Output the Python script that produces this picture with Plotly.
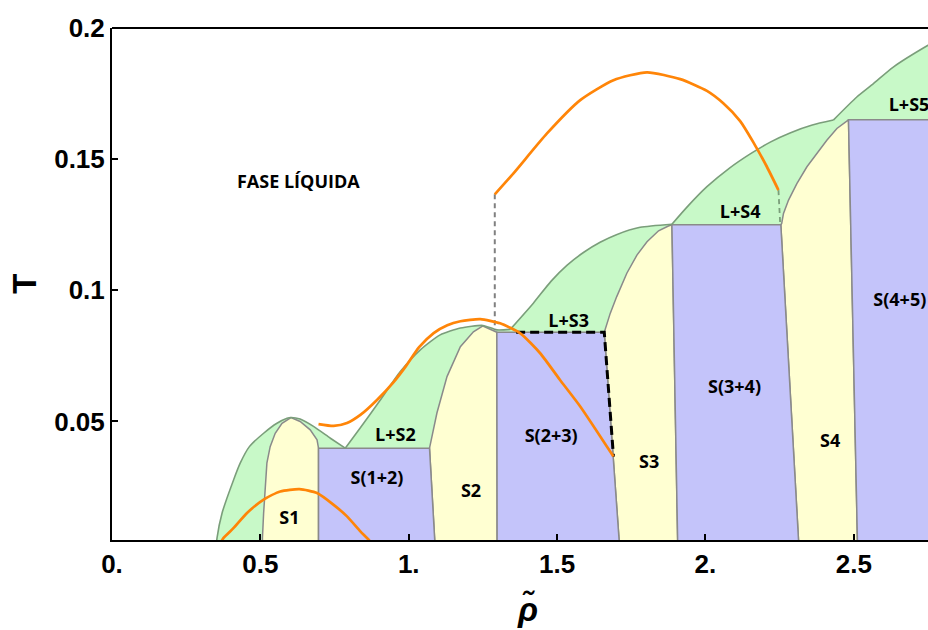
import plotly.graph_objects as go

# ---------------- axis ticks ----------------
x_tickvals = [0, 0.5, 1.0, 1.5, 2.0, 2.5]
x_ticktext = ["0.", "0.5", "1.", "1.5", "2.", "2.5"]
y_tickvals = [0.05, 0.1, 0.15, 0.2]
y_ticktext = ["0.05", "0.1", "0.15", "0.2"]

# ---------------- liquidus (outer envelope of L+S regions) ----------------
liq_x = [0.350, 0.354, 0.371, 0.410, 0.432, 0.463, 0.511, 0.556, 0.590, 0.603,
         0.634, 0.679, 0.736, 0.786,
         0.837, 0.897, 0.971, 1.039, 1.106, 1.174, 1.250,
         1.297, 1.342, 1.420, 1.480, 1.533, 1.590, 1.645, 1.700, 1.780, 1.887,
         1.940, 2.005, 2.080, 2.151, 2.220, 2.285, 2.360, 2.431,
         2.510, 2.566, 2.633, 2.750, 2.800]
liq_T = [0.0, 0.0056, 0.0151, 0.0278, 0.0341, 0.0404, 0.0455, 0.0493, 0.0512, 0.0515,
         0.0509, 0.0481, 0.0436, 0.0398,
         0.0476, 0.0570, 0.0689, 0.0773, 0.0830, 0.0856, 0.0866,
         0.0849, 0.0851, 0.0951, 0.1035, 0.1095, 0.1145, 0.1183, 0.1212, 0.1240, 0.1252,
         0.1320, 0.1395, 0.1465, 0.1520, 0.1566, 0.1600, 0.1630, 0.1649,
         0.1737, 0.1788, 0.1851, 0.1934, 0.1965]
# eutectic corners where the liquidus changes branch
eut_x = [0.786, 1.342, 1.887, 2.431]

# ---------------- single solid phases (yellow) ----------------
s1_x = [0.507, 0.507, 0.511, 0.517, 0.522, 0.533, 0.550, 0.573, 0.596, 0.603,
        0.634, 0.668, 0.691, 0.696, 0.696]
s1_T = [0.0, 0.0056, 0.0151, 0.0278, 0.0341, 0.0404, 0.0455, 0.0493, 0.0512, 0.0515,
        0.0500, 0.0468, 0.0430, 0.0398, 0.0]

s2_x = [1.090, 1.070, 1.095, 1.129, 1.174, 1.218, 1.250, 1.297, 1.298]
s2_T = [0.0, 0.0398, 0.0532, 0.0671, 0.0785, 0.0842, 0.0864, 0.0840, 0.0]

s3_x = [1.712, 1.659, 1.679, 1.701, 1.735, 1.769, 1.803, 1.842, 1.875, 1.887, 1.907]
s3_T = [0.0, 0.0840, 0.0912, 0.0976, 0.1065, 0.1134, 0.1185, 0.1227, 0.1245, 0.1250, 0.0]

s4_x = [2.316, 2.254, 2.257, 2.263, 2.280, 2.308, 2.342, 2.375, 2.409, 2.443, 2.471, 2.482, 2.513]
s4_T = [0.0, 0.1250, 0.1255, 0.1293, 0.1344, 0.1407, 0.1471, 0.1522, 0.1572, 0.1617, 0.1642, 0.1650, 0.0]

# ---------------- two-solid coexistence (purple) ----------------
s12_x = [0.696, 0.696, 1.070, 1.090]
s12_T = [0.0, 0.0398, 0.0398, 0.0]
s23_x = [1.298, 1.297, 1.659, 1.712]
s23_T = [0.0, 0.0840, 0.0840, 0.0]
s34_x = [1.907, 1.887, 2.254, 2.316]
s34_T = [0.0, 0.1250, 0.1250, 0.0]
s45_x = [2.513, 2.482, 2.800, 2.800]
s45_T = [0.0, 0.1650, 0.1650, 0.0]

# ---------------- orange curves ----------------
or1_x = [0.362, 0.376, 0.410, 0.455, 0.511, 0.567, 0.632, 0.691, 0.747, 0.792, 0.837, 0.865, 0.878]
or1_T = [0.0030, 0.0056, 0.0094, 0.0151, 0.0202, 0.0233, 0.0242, 0.0227, 0.0182, 0.0138, 0.0081, 0.0049, 0.0030]

or2_x = [0.696, 0.747, 0.792, 0.837, 0.893, 0.949, 0.990, 1.035, 1.084, 1.130, 1.174, 1.241,
         1.308, 1.376, 1.443, 1.510, 1.578, 1.690]
or2_T = [0.0490, 0.0483, 0.0494, 0.0525, 0.0582, 0.0650, 0.0710, 0.0783, 0.0837, 0.0867, 0.0882, 0.0890,
         0.0874, 0.0836, 0.0760, 0.0658, 0.0557, 0.0366]

or3_x = [1.290, 1.353, 1.466, 1.578, 1.690, 1.803, 1.915, 2.005, 2.061, 2.117, 2.162, 2.207, 2.246]
or3_T = [0.1366, 0.1446, 0.1598, 0.1725, 0.1801, 0.1831, 0.1805, 0.1760, 0.1712, 0.1645, 0.1563, 0.1471, 0.1382]

# ---------------- dashed connectors ----------------
dgray_x = [1.290, 1.290]
dgray_T = [0.1366, 0.0848]
dgreen_x = [2.246, 2.252]
dgreen_T = [0.1382, 0.1250]
dblack_x = [1.362, 1.659, 1.690]
dblack_T = [0.0840, 0.0840, 0.0366]

# ---------------- region labels ----------------
lab_text = ["FASE LÍQUIDA", "S1", "S(1+2)", "L+S2", "S2", "S(2+3)", "L+S3",
            "S3", "S(3+4)", "L+S4", "S4", "S(4+5)", "L+S5"]
lab_x = [0.628, 0.598, 0.893, 0.955, 1.210, 1.480, 1.539, 1.810, 2.098, 2.117, 2.420, 2.655, 2.686]
lab_T = [0.1408, 0.0128, 0.0278, 0.0443, 0.0229, 0.0438, 0.0877, 0.0341, 0.0627, 0.1293, 0.0421, 0.0959, 0.1699]

# ---------------- styles ----------------
GREEN = "#c8f9c8"
YELLOW = "#ffffd2"
PURPLE = "#c4c4fa"
LIQ_LINE = "rgb(122,158,122)"
GRAY_LINE = "rgb(138,138,138)"
ORANGE = "rgb(255,133,8)"

fig = go.Figure()

# green envelope
fig.add_trace(go.Scatter(x=liq_x + [liq_x[-1], liq_x[0]], y=liq_T + [0.0, 0.0],
                         mode="lines", fill="toself", fillcolor=GREEN,
                         line=dict(width=0), hoverinfo="skip", showlegend=False))

for xs, ts, col in [(s1_x, s1_T, YELLOW), (s2_x, s2_T, YELLOW), (s3_x, s3_T, YELLOW), (s4_x, s4_T, YELLOW),
                    (s12_x, s12_T, PURPLE), (s23_x, s23_T, PURPLE), (s34_x, s34_T, PURPLE), (s45_x, s45_T, PURPLE)]:
    fig.add_trace(go.Scatter(x=xs, y=ts, mode="lines", fill="toself", fillcolor=col,
                             line=dict(color=GRAY_LINE, width=1.5),
                             hoverinfo="skip", showlegend=False))

# liquidus outline, drawn branch by branch (smooth between eutectic corners)
cuts = [0] + [liq_x.index(e) for e in eut_x] + [len(liq_x) - 1]
for a, b in zip(cuts[:-1], cuts[1:]):
    fig.add_trace(go.Scatter(x=liq_x[a:b + 1], y=liq_T[a:b + 1], mode="lines",
                             line=dict(color=LIQ_LINE, width=1.6, shape="spline", smoothing=0.6),
                             hoverinfo="skip", showlegend=False))

# dashed connectors
fig.add_trace(go.Scatter(x=dgray_x, y=dgray_T, mode="lines",
                         line=dict(color="rgb(128,128,128)", width=2, dash="5px,4px"),
                         hoverinfo="skip", showlegend=False))
fig.add_trace(go.Scatter(x=dgreen_x, y=dgreen_T, mode="lines",
                         line=dict(color=LIQ_LINE, width=1.8, dash="5px,4px"),
                         hoverinfo="skip", showlegend=False))
fig.add_trace(go.Scatter(x=dblack_x, y=dblack_T, mode="lines",
                         line=dict(color="black", width=3, dash="9px,5px"),
                         hoverinfo="skip", showlegend=False))

# orange curves
for xs, ts in [(or1_x, or1_T), (or2_x, or2_T), (or3_x, or3_T)]:
    fig.add_trace(go.Scatter(x=xs, y=ts, mode="lines",
                             line=dict(color=ORANGE, width=2.7, shape="spline", smoothing=0.6),
                             hoverinfo="skip", showlegend=False))

# labels
fig.add_trace(go.Scatter(x=lab_x, y=lab_T, mode="text", text=lab_text,
                         textposition="middle center",
                         textfont=dict(family="Open Sans", size=18, color="black", weight="bold"),
                         hoverinfo="skip", showlegend=False))

tick_font = dict(family="Liberation Sans, Arial", size=26, color="black", weight="bold")

fig.update_layout(
    width=928, height=630, autosize=False,
    margin=dict(l=112, r=0, t=28, b=90),
    paper_bgcolor="white", plot_bgcolor="white",
    xaxis=dict(range=[0, 2.75], showgrid=False, zeroline=False,
               showline=True, linecolor="black", linewidth=2,
               ticks="inside", ticklen=6, tickwidth=1.5, tickcolor="black",
               tickvals=x_tickvals, ticktext=x_ticktext, tickfont=tick_font),
    yaxis=dict(range=[0.0048, 0.2], showgrid=False, zeroline=False,
               showline=True, linecolor="black", linewidth=2,
               ticks="inside", ticklen=6, tickwidth=1.5, tickcolor="black",
               tickvals=y_tickvals, ticktext=y_ticktext, tickfont=tick_font),
    shapes=[dict(type="line", xref="paper", yref="paper", x0=0, x1=1, y0=1, y1=1,
                 line=dict(color="black", width=2))],
    annotations=[
        dict(text="ρ\u0303", xref="paper", yref="paper", x=0.5086, y=-0.135,
             xanchor="center", yanchor="middle", showarrow=False,
             font=dict(family="Liberation Sans, Arial", size=33, color="black",
                       weight="bold", style="italic")),
        dict(text="T", xref="paper", yref="paper", x=-0.108, y=0.5, textangle=-90,
             xanchor="center", yanchor="middle", showarrow=False,
             font=dict(family="Liberation Sans, Arial", size=33, color="black", weight="bold")),
    ],
)

fig.write_html("out.html")
